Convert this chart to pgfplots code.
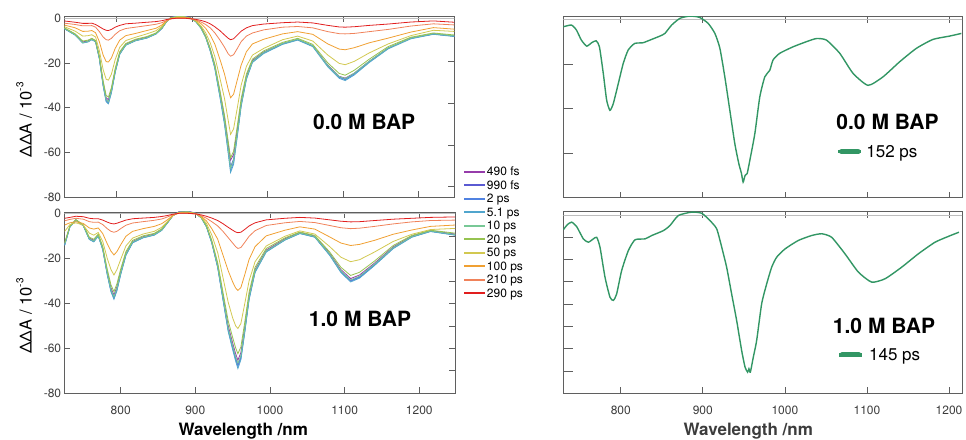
\documentclass[border=0pt]{standalone}
\usepackage{fontspec}
\setmainfont{TeX Gyre Heros}
\usepackage{pgfplots}
\usepackage{pgfplotstable}
\pgfplotsset{compat=1.18}
\definecolor{axgray}{RGB}{95,95,95}
\definecolor{tickgray}{RGB}{60,60,60}
\definecolor{zerogray}{RGB}{190,190,190}
\definecolor{cA}{RGB}{150,60,170}
\definecolor{cB}{RGB}{90,90,210}
\definecolor{cC}{RGB}{80,130,225}
\definecolor{cD}{RGB}{80,165,205}
\definecolor{cE}{RGB}{120,200,150}
\definecolor{cF}{RGB}{150,195,80}
\definecolor{cG}{RGB}{210,200,80}
\definecolor{cH}{RGB}{240,160,50}
\definecolor{cI}{RGB}{240,130,90}
\definecolor{cJ}{RGB}{225,30,30}
\definecolor{dasgreen}{RGB}{50,150,100}

\pgfplotstableread{
lam a b c d e f g h i j
730 -4.3 -4.5 -4.5 -4.6 -4.4 -4.2 -3.7 -3 -2.2 -1.2
745 -7.2 -7.4 -7.5 -7.6 -7.4 -7 -5.8 -4.3 -2.8 -1.8
755 -10.6 -10.9 -11 -11.1 -10.9 -10.2 -8 -5.9 -3.4 -2.3
762 -10.1 -10.4 -10.5 -10.6 -10.4 -9.8 -7.8 -5.8 -3.4 -2.3
767 -9.1 -9.4 -9.5 -9.6 -9.4 -9 -7.4 -5.5 -3.3 -2.2
772 -10.1 -10.4 -10.5 -10.6 -10.4 -10 -8.4 -6.5 -4 -2.8
777 -17.3 -17.8 -18 -18.2 -17.7 -17 -14.5 -10.5 -6 -3.8
782 -28.9 -29.6 -30 -30.3 -29.5 -28 -23 -16.5 -8.4 -4.8
786 -35.6 -36.5 -37 -37.4 -36.4 -34.5 -27.3 -19.4 -9.6 -5.4
789 -36.5 -37.5 -38 -38.3 -37.3 -35.3 -27.7 -19.6 -9.8 -5.5
793 -31.8 -32.7 -33 -33.4 -32.5 -31 -25 -17.8 -9 -5
798 -23.1 -23.8 -24 -24.3 -23.6 -22.5 -18.5 -13.5 -7.2 -4
804 -15.4 -15.9 -16 -16.2 -15.8 -15 -13 -9.8 -5.6 -3.2
812 -11.6 -11.9 -12 -12.1 -11.9 -11.3 -10 -7.8 -4.6 -2.5
825 -9.7 -9.9 -10 -10.1 -9.9 -9.4 -8.5 -6.8 -4 -2.2
840 -8.5 -8.7 -8.8 -8.9 -8.7 -8.2 -7 -5.5 -3.3 -1.8
852 -6.8 -6.9 -7 -7.1 -6.9 -6.6 -5.6 -4.5 -2.7 -1.5
860 -4.4 -4.5 -4.5 -4.6 -4.4 -4.2 -3.6 -3 -2 -1.1
866 -1.5 -1.5 -1.5 -1.6 -1.5 -1.4 -1.3 -1.2 -1 -0.6
872 0.4 0.3 0.2 0.2 0.2 0.2 0 -0.2 -0.3 -0.2
880 1 0.9 0.8 0.8 0.8 0.7 0.5 0.3 0 0
890 0.9 0.8 0.7 0.7 0.7 0.6 0.5 0.3 0 0
898 0.2 0.1 0 0 0 0 0 0 -0.3 -0.2
905 -1.3 -1.4 -1.5 -1.6 -1.5 -1.4 -1.2 -0.9 -0.8 -0.5
912 -4.2 -4.4 -4.5 -4.6 -4.4 -4.2 -3.5 -2.5 -1.7 -1
918 -8 -8.3 -8.5 -8.6 -8.4 -8 -6.5 -4.5 -2.8 -1.6
924 -13.7 -14.2 -14.5 -14.7 -14.3 -13.5 -11 -7.5 -4.3 -2.5
930 -20.8 -21.5 -22 -22.3 -21.6 -20.5 -17 -11.5 -6.5 -3.8
937 -33.2 -34.3 -35 -35.5 -34.4 -32.5 -27 -18.5 -9.8 -5.6
943 -44.5 -46 -47 -47.6 -46.2 -43.5 -36 -25 -13 -7.5
948 -56.5 -58.6 -60 -60.8 -59 -55.5 -46 -32 -16 -9
951 -63.5 -66.5 -68 -69 -67 -62.5 -52 -35.6 -17 -9.6
955 -61 -63 -64.5 -65.4 -63.5 -59.5 -49.5 -34 -16.3 -9.2
960 -49.5 -50.8 -52 -52.8 -51.3 -48 -40 -27.5 -13.5 -7.5
965 -37.5 -38.2 -39 -39.6 -38.5 -36 -30 -21 -10.5 -5.8
972 -26 -26.5 -27 -27.4 -26.6 -25 -21.5 -15 -8 -4.3
980 -18.9 -19.2 -19.5 -19.8 -19.3 -18.3 -16.5 -11.5 -6.6 -3.3
995 -15.1 -15.3 -15.5 -15.8 -15.3 -14.6 -13.5 -9.4 -5.2 -2.6
1020 -11.3 -11.4 -11.5 -11.7 -11.3 -10.8 -9.6 -7 -4 -2
1040 -9.5 -9.5 -9.6 -9.8 -9.4 -9 -8 -6 -3.7 -1.7
1060 -12.3 -12.4 -12.5 -12.7 -12.3 -11.7 -10.2 -7.2 -4.3 -2.1
1080 -21 -21.3 -21.5 -21.8 -21.2 -20 -16.5 -11.5 -6 -3.2
1095 -26 -26.3 -26.5 -26.9 -26.1 -24.7 -20.2 -13.8 -6.9 -3.9
1103 -26.8 -27.2 -27.5 -27.9 -27 -25.5 -20.8 -14.1 -7 -4
1115 -24.6 -24.8 -25 -25.4 -24.6 -23.3 -19.3 -13.2 -6.8 -3.8
1135 -19.2 -19.4 -19.5 -19.8 -19.2 -18.3 -15.5 -11 -6 -3.2
1160 -13.3 -13.4 -13.5 -13.7 -13.3 -12.7 -11.5 -8.9 -5 -2.6
1190 -8.9 -9 -9 -9.2 -8.9 -8.5 -7.8 -6.2 -3.5 -1.7
1220 -7 -7 -7 -7.2 -6.9 -6.6 -5.4 -4.2 -2.5 -1.2
1248 -8 -8 -8 -8.2 -7.9 -7.5 -5.9 -4.9 -3 -1.8
}\topdata

\pgfplotstableread{
lam a b c d e f g h i j
725 -13.4 -13.9 -14 -14.3 -13.7 -13 -8 -5.2 -3.3 -2.2
732 -5.8 -5.9 -6 -6.1 -5.9 -5.6 -5 -4.2 -2.7 -1.8
740 -2.9 -3 -3 -3.1 -2.9 -2.8 -4.2 -3.7 -2.2 -1.3
750 -5.3 -5.4 -5.5 -5.6 -5.4 -5.1 -5.3 -4.5 -2.6 -1.5
758 -11 -11.4 -11.5 -11.6 -11.3 -10.6 -8.8 -6.5 -3.7 -2.2
764 -12 -12.4 -12.5 -12.7 -12.3 -11.5 -9.7 -7 -4 -2.4
770 -9.6 -9.9 -10 -10.1 -9.8 -9.2 -8.5 -6.5 -3.9 -2.4
776 -15.4 -15.8 -16 -16.2 -15.7 -14.7 -12.5 -9 -5 -3
782 -25.9 -26.7 -27 -27.3 -26.5 -24.8 -20 -13.5 -6.8 -3.9
787 -33.1 -34.2 -34.5 -34.9 -33.8 -31.8 -25 -16.8 -8 -4.5
791 -36.3 -37.4 -37.8 -38.2 -37 -34.8 -27.4 -18.5 -8.4 -4.7
795 -32.6 -33.7 -34 -34.4 -33.3 -31.3 -25 -17 -8 -4.4
800 -25.9 -26.7 -27 -27.3 -26.5 -24.8 -20.5 -14 -6.8 -3.8
807 -17.8 -18.3 -18.5 -18.7 -18.1 -17 -14.5 -10.2 -5.3 -3
816 -12.5 -12.9 -13 -13.1 -12.7 -12 -11 -8 -4.3 -2.4
830 -10.4 -10.7 -10.8 -10.9 -10.6 -10 -9.2 -6.8 -3.7 -2.1
845 -9.2 -9.5 -9.6 -9.7 -9.4 -8.9 -8 -5.8 -3.1 -1.8
855 -7.2 -7.4 -7.5 -7.6 -7.4 -6.9 -6.2 -4.6 -2.5 -1.4
862 -4.3 -4.5 -4.5 -4.5 -4.4 -4.2 -3.8 -3 -1.7 -1
870 -0.9 -1 -1 -1 -1 -0.9 -1 -0.9 -0.6 -0.4
878 0.7 0.6 0.5 0.5 0.5 0.5 0.4 0.2 0 0
890 0.9 0.8 0.7 0.7 0.7 0.6 0.5 0.3 0 0
900 0.2 0.1 0 0 0 0 0 -0.1 -0.3 -0.2
908 -1.8 -1.9 -2 -2 -2 -1.8 -1.7 -1.4 -1.1 -0.7
915 -5.8 -5.9 -6 -6.1 -5.9 -5.5 -4.5 -3.4 -2.2 -1.3
922 -12.5 -12.9 -13 -13.1 -12.7 -12 -9.6 -6.8 -3.7 -2.1
930 -23 -23.8 -24 -24.2 -23.5 -22 -17.5 -11.5 -5.6 -3.2
937 -36.5 -37.6 -38 -38.4 -37.2 -35 -28.5 -18.5 -8 -4.6
944 -49.9 -51.5 -52 -52.5 -51 -47.8 -39.5 -25.5 -10.8 -6.2
950 -57.6 -59.4 -60 -60.6 -58.8 -55.2 -46.5 -30.5 -13.2 -7.5
954 -62.4 -64.4 -65 -65.7 -63.7 -59.8 -50 -33.2 -14.8 -8.3
957 -65.3 -67.3 -68 -69 -66.6 -62.4 -51.2 -34.3 -15.6 -8.6
961 -61.9 -63.9 -64.5 -65.1 -63.2 -59.4 -49 -33 -15.2 -8.4
966 -50.9 -52.5 -53 -53.5 -51.9 -48.8 -40.5 -27.5 -13 -7.2
972 -36.5 -37.6 -38 -38.4 -37.2 -35 -30 -20.5 -10.2 -5.6
980 -25 -25.7 -26 -26.3 -25.5 -24 -21.5 -14.8 -7.7 -4.2
995 -16.3 -16.8 -17 -17.2 -16.7 -15.6 -14.5 -10 -5.4 -2.9
1020 -11.3 -11.7 -11.8 -11.9 -11.6 -10.9 -10.2 -7.5 -4.2 -2.2
1040 -8.5 -8.8 -8.9 -9 -8.7 -8.3 -7.8 -6 -3.6 -1.8
1060 -10.1 -10.4 -10.5 -10.6 -10.3 -9.8 -9.2 -7 -4.1 -2.1
1080 -17.8 -18.3 -18.5 -18.7 -18.1 -17.2 -14.8 -10.5 -5.4 -2.9
1095 -25 -25.7 -26 -26.3 -25.5 -24 -19.5 -13.2 -6.4 -3.5
1108 -29 -29.9 -30.2 -30.5 -29.6 -27.6 -21.5 -14.3 -6.8 -3.8
1120 -27.4 -28.2 -28.5 -28.8 -27.9 -26.2 -20.6 -13.8 -6.6 -3.7
1140 -22.1 -22.8 -23 -23.2 -22.5 -21.2 -17.2 -12 -5.8 -3.2
1165 -14.9 -15.3 -15.5 -15.7 -15.2 -14.3 -12.5 -9.3 -4.7 -2.6
1190 -10.1 -10.4 -10.5 -10.6 -10.3 -9.8 -9.3 -7.4 -3.8 -2.2
1215 -7.7 -7.9 -8 -8.1 -7.8 -7.5 -7.2 -5.8 -3.2 -1.8
1248 -9.2 -9.5 -9.6 -9.7 -9.4 -8.8 -6.7 -5.2 -3 -1.6
}\botdata

\pgfplotstableread{
lam v
730 -0.166
740 -0.128
746 -0.24
752 -0.465
758.5 -0.6
764.5 -0.525
770 -0.48
774 -0.615
778.7 -1.21
782.8 -1.81
786.8 -2.04
790.9 -1.89
797 -1.44
803 -0.99
809 -0.69
817 -0.54
827 -0.525
835.5 -0.465
847.7 -0.375
853.8 -0.315
862 -0.128
872 0.022
884 0.074
896 0.045
906.5 -0.09
914.7 -0.315
920.8 -0.65
926.8 -1.29
932.9 -2.04
939 -2.79
943.9 -3.24
947 -3.45
949.1 -3.65
951.5 -3.5
954 -3.46
957.3 -3.16
963.4 -2.56
969.4 -1.74
975.5 -1.29
981.6 -1.14
985.6 -0.91
993.8 -0.76
1010 -0.615
1026.3 -0.5
1038.5 -0.43
1050.6 -0.465
1066.8 -0.76
1083 -1.21
1101.3 -1.48
1119.5 -1.29
1139.9 -0.95
1160.2 -0.65
1180.4 -0.45
1200.7 -0.375
1215 -0.315
}\dasA

\pgfplotstableread{
lam v
730 -0.66
735 -0.43
740.2 -0.32
746.3 -0.52
754.4 -1.07
760.5 -1.22
766.6 -1.07
770.7 -1
774.7 -1.44
780.8 -2.79
786.9 -3.69
791 -3.83
795 -3.54
801.1 -2.49
809.3 -1.59
817.4 -1.11
829.6 -1.07
837.7 -0.92
851.9 -0.7
860 -0.47
870.2 -0.02
886.4 0.13
898.6 0.08
908.7 -0.25
916.9 -0.62
923 -1.44
929 -2.34
935.1 -3.54
941.2 -4.73
947.3 -6.08
951.4 -6.82
954.6 -7.05
956.2 -6.9
957.9 -7.05
961.5 -6.38
965.6 -5.63
971.7 -3.98
977.8 -3.09
983.9 -2.34
990 -1.89
1000.2 -1.52
1016.4 -1.14
1032.6 -0.92
1044.8 -0.84
1057 -1
1073.2 -1.74
1089.5 -2.56
1105.7 -3.01
1122 -2.86
1142.3 -2.34
1162.6 -1.74
1182.9 -1.22
1199.1 -0.96
1212.1 -0.77
}\dasB

\pgfplotsset{
  panel/.style={
    scale only axis, anchor=south west, clip=true,
    axis line style={draw=axgray, line width=0.8pt},
    tick style={draw=axgray, line width=0.8pt},
    tick align=inside,
    major tick length=6pt,
    ticklabel style={font=\fontsize{12}{12}\selectfont, text=tickgray},
    /pgf/number format/assume math mode=true,
    /pgf/number format/1000 sep={},
    xtick={800,900,1000,1100,1200},
    xticklabel style={anchor=base, yshift=-21.3pt, inner sep=0pt},
    yticklabel style={anchor=east, inner sep=0pt, xshift=-3pt},
    every axis plot/.append style={line width=0.8pt},
  },
}

\begin{document}
\begin{tikzpicture}[x=1pt,y=1pt]
\useasboundingbox (0pt,0pt) rectangle (966pt,439pt);

% ---------- top left ----------
\begin{axis}[panel, at={(64.3pt,242pt)}, width=390pt, height=181pt,
  xmin=730.5, xmax=1247.7, ymin=-80, ymax=1,
  ytick={-80,-60,-40,-20,0}, ytick pos=left, xticklabels={}]
\addplot[zerogray, line width=0.8pt] coordinates {(700,0) (1300,0)};
\addplot[cA] table[x=lam,y=a] {\topdata};
\addplot[cB] table[x=lam,y=b] {\topdata};
\addplot[cC] table[x=lam,y=c] {\topdata};
\addplot[cD] table[x=lam,y=d] {\topdata};
\addplot[cE] table[x=lam,y=e] {\topdata};
\addplot[cF] table[x=lam,y=f] {\topdata};
\addplot[cG] table[x=lam,y=g] {\topdata};
\addplot[cH] table[x=lam,y=h] {\topdata};
\addplot[cI] table[x=lam,y=i] {\topdata};
\addplot[cJ] table[x=lam,y=j] {\topdata};
\end{axis}
\begin{axis}[panel, at={(64.3pt,242pt)}, width=390pt, height=181pt,
  xmin=730.5, xmax=1247.7, ymin=-80, ymax=1,
  axis line style={draw=none}, xtick=\empty,
  ytick={-75.4,-56.7,-38,-19.4}, yticklabels={}, ytick pos=right]
\end{axis}

% ---------- legend of the time delays ----------
\begin{scope}[font=\fontsize{12}{12}\selectfont]
\foreach \col/\txt [count=\k from 0] in {cA/490 fs, cB/990 fs, cC/2 ps, cD/5.1 ps, cE/10 ps,
    cF/20 ps, cG/50 ps, cH/100 ps, cI/210 ps, cJ/290 ps}{
  \draw[draw=\col, line width=1.9pt] (464pt,{267.3pt-13.5pt*\k}) -- (485pt,{267.3pt-13.5pt*\k});
  \node[anchor=west, inner sep=0pt, text height=9.6pt, text depth=1pt]
    at (486.7pt,{267.3pt-13.5pt*\k}) {\txt};
}
\end{scope}

% ---------- bottom left ----------
\begin{axis}[panel, at={(64.3pt,45.7pt)}, width=390.7pt, height=181.3pt,
  xmin=724.5, xmax=1247.8, ymin=-80, ymax=0.6,
  ytick={-80,-60,-40,-20,0}, ytick pos=left]
\addplot[zerogray, line width=0.8pt] coordinates {(700,0) (1300,0)};
\addplot[cA] table[x=lam,y=a] {\botdata};
\addplot[cB] table[x=lam,y=b] {\botdata};
\addplot[cC] table[x=lam,y=c] {\botdata};
\addplot[cD] table[x=lam,y=d] {\botdata};
\addplot[cE] table[x=lam,y=e] {\botdata};
\addplot[cF] table[x=lam,y=f] {\botdata};
\addplot[cG] table[x=lam,y=g] {\botdata};
\addplot[cH] table[x=lam,y=h] {\botdata};
\addplot[cI] table[x=lam,y=i] {\botdata};
\addplot[cJ] table[x=lam,y=j] {\botdata};
\end{axis}
\begin{axis}[panel, at={(64.3pt,45.7pt)}, width=390.7pt, height=181.3pt,
  xmin=724.5, xmax=1247.8, ymin=-80, ymax=0.6,
  axis line style={draw=none}, xtick=\empty,
  ytick={-70,-60,-50.1,-40,-30.1,-20.4,-10.3}, yticklabels={}, ytick pos=right]
\end{axis}

% ---------- top right ----------
\begin{axis}[panel, at={(563.3pt,241.3pt)}, width=398.7pt, height=181pt,
  xmin=730, xmax=1215.8, ymin=-4, ymax=0.06,
  ytick={-4,-3,-2,-1,0}, yticklabels={}, ytick pos=left, xticklabels={},
  ytick style={/pgfplots/major tick length=10pt},
  legend image code/.code={\path (0pt,-1pt) rectangle (21.7pt,1pt);
    \draw[#1, line width=5pt, line cap=round] (2.5pt,0pt) -- (19.2pt,0pt);},
  legend style={at={(0.6897,0.2541)}, anchor=west, draw=none, fill=none,
    inner sep=0pt, outer sep=0pt, column sep=5pt,
    nodes={inner sep=0pt, text height=12.2pt, text depth=0pt, anchor=west,
      font=\fontsize{17}{17}\selectfont, text=black}},
]
\addplot[zerogray, line width=0.8pt, forget plot] coordinates {(700,0) (1300,0)};
\addplot[dasgreen, line width=1.4pt, smooth, tension=0.35] table[x=lam,y=v] {\dasA}; \addlegendentry{152 ps}
\end{axis}

% ---------- bottom right ----------
\begin{axis}[panel, at={(563.3pt,45.7pt)}, width=398.7pt, height=181.6pt,
  xmin=730, xmax=1215.8, ymin=-8, ymax=0.15,
  ytick={-8,-7,-6,-5,-4,-3,-2,-1,0}, yticklabels={}, ytick pos=left,
  ytick style={/pgfplots/major tick length=10pt},
  legend image code/.code={\path (0pt,-1pt) rectangle (21.7pt,1pt);
    \draw[#1, line width=5pt, line cap=round] (2.5pt,0pt) -- (19.2pt,0pt);},
  legend style={at={(0.6915,0.2115)}, anchor=west, draw=none, fill=none,
    inner sep=0pt, outer sep=0pt, column sep=7pt,
    nodes={inner sep=0pt, text height=12.2pt, text depth=0pt, anchor=west,
      font=\fontsize{17}{17}\selectfont, text=black}},
]
\addplot[zerogray, line width=0.8pt, forget plot] coordinates {(700,0) (1300,0)};
\addplot[dasgreen, line width=1.4pt, smooth, tension=0.35] table[x=lam,y=v] {\dasB}; \addlegendentry{145 ps}
\end{axis}

% ---------- texts ----------
\node[anchor=base, font=\bfseries\fontsize{21}{21}\selectfont] at (364.2pt,309pt) {0.0 M BAP};
\node[anchor=base, font=\bfseries\fontsize{21}{21}\selectfont] at (360pt,112.3pt) {1.0 M BAP};
\node[anchor=base, font=\bfseries\fontsize{21}{21}\selectfont] at (887.5pt,309pt) {0.0 M BAP};
\node[anchor=base, font=\bfseries\fontsize{21}{21}\selectfont] at (884pt,105.7pt) {1.0 M BAP};

\node[rotate=90, anchor=base, font=\fontsize{16.5}{16.5}\selectfont] at (31.5pt,319pt)
  {ΔΔA / 10\raisebox{0.5em}{\fontsize{10}{10}\selectfont -3}};
\node[rotate=90, anchor=base, font=\fontsize{16.5}{16.5}\selectfont] at (31.5pt,123pt)
  {ΔΔA / 10\raisebox{0.5em}{\fontsize{10}{10}\selectfont -3}};

\node[anchor=base, font=\bfseries\fontsize{17}{17}\selectfont] at (243.3pt,4pt) {Wavelength /nm};
\node[anchor=base, font=\bfseries\fontsize{17}{17}\selectfont, text=tickgray] at (748.3pt,4pt) {Wavelength /nm};
\end{tikzpicture}
\end{document}
